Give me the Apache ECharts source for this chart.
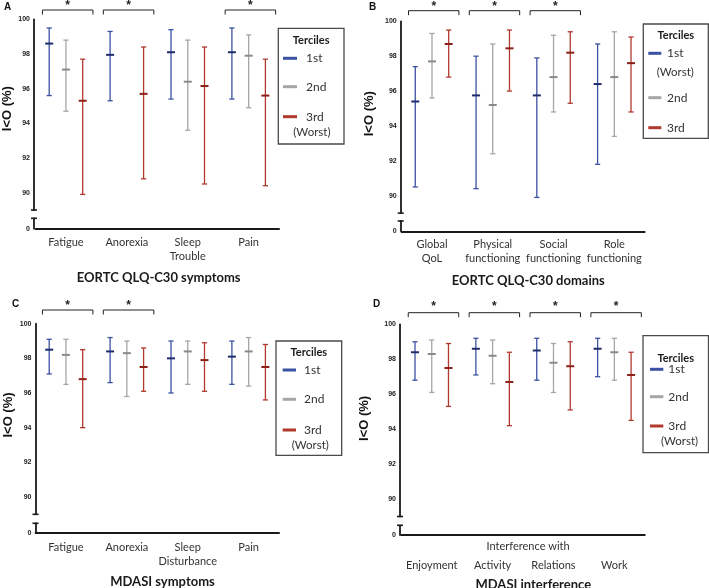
<!DOCTYPE html>
<html>
<head>
<meta charset="utf-8">
<script src="https://cdn.jsdelivr.net/npm/echarts@6/dist/echarts.min.js"></script>
<style>
html, body { margin: 0; padding: 0; background: #fff; }
#chart { width: 709px; height: 588px; }
</style>
</head>
<body>
<div id="chart"></div>
<script>
// categories of each panel
var catsA = ['Fatigue', 'Anorexia', 'Sleep\nTrouble', 'Pain'];
var catsB = ['Global\nQoL', 'Physical\nfunctioning', 'Social\nfunctioning', 'Role\nfunctioning'];
var catsC = ['Fatigue', 'Anorexia', 'Sleep\nDisturbance', 'Pain'];
var catsD = ['Enjoyment', 'Activity', 'Relations', 'Work'];

// [low, mean, high] per category, null = not shown
var a1st = [[95.6, 98.6, 99.5], [95.3, 97.95, 99.3], [95.4, 98.1, 99.4], [95.4, 98.1, 99.5]];
var a2nd = [[94.7, 97.1, 98.8], null, [93.6, 96.4, 98.8], [94.9, 97.9, 99.1]];
var a3rd = [[89.9, 95.3, 97.7], [90.8, 95.7, 98.4], [90.5, 96.15, 98.4], [90.4, 95.6, 97.7]];

var b1st = [[90.5, 95.4, 97.4], [90.4, 95.75, 98.0], [89.9, 95.75, 97.9], [91.8, 96.4, 98.7]];
var b2nd = [[95.6, 97.7, 99.3], [92.4, 95.2, 98.7], [94.8, 96.8, 99.2], [93.4, 96.8, 99.4]];
var b3rd = [[96.8, 98.7, 99.5], [96.0, 98.45, 99.5], [95.3, 98.2, 99.4], [94.8, 97.6, 99.1]];

var c1st = [[97.1, 98.5, 99.1], [96.6, 98.4, 99.2], [96.0, 98.0, 99.0], [96.5, 98.1, 99.0]];
var c2nd = [[96.5, 98.2, 99.1], [95.8, 98.3, 99.0], [96.5, 98.4, 99.0], [96.4, 98.4, 99.2]];
var c3rd = [[94.0, 96.8, 98.5], [96.1, 97.5, 98.6], [96.1, 97.9, 98.9], [95.6, 97.5, 98.8]];

var d1st = [[96.8, 98.4, 99.0], [97.1, 98.6, 99.2], [96.8, 98.5, 99.2], [97.0, 98.6, 99.2]];
var d2nd = [[96.1, 98.3, 99.1], [96.6, 98.2, 99.1], [96.1, 97.8, 98.9], [96.8, 98.4, 99.2]];
var d3rd = [[95.3, 97.5, 98.9], [94.2, 96.7, 98.4], [95.1, 97.6, 99.0], [94.5, 97.1, 98.4]];

// significance brackets (*) per category
var sigA = [1, 1, 0, 1];
var sigB = [1, 1, 1, 0];
var sigC = [1, 1, 0, 0];
var sigD = [1, 1, 1, 1];

var yLabels = [90, 92, 94, 96, 98, 100];
var yLabelsLow = [0];

var colBlue = '#3b51a3', colGray = '#a6a6a6', colRed = '#b0392e';
var meanBlue = '#1f2b6b', meanGray = '#8a8a8a', meanRed = '#8c1f18';
var axisCol = '#1a1a1a';

var panels = [
    {cats: catsA, data: [a1st, a2nd, a3rd], sig: sigA, names: ['1st', '2nd', '3rd'],
     left: 35.5, width: 243.6, top: 19.3, height: 190.7, lowTop: 218.3, lowH: 10.4, yOff: 1.5,
     nameGap: 20, namePad: 12, labMargin: 7, brGap: 9.3, starGap: 4.3,
     title: 'EORTC QLQ-C30 symptoms', titleX: 158.7, titleY: 279.5, letter: 'A', letterX: 4, letterY: 2,
     leg: {box: [278.3, 28.3, 65.7, 115.7], titleY: 40, iconX: 283, iconW: 14, textX: 306, rows: [58.3, 86.7, 116.7], worst: [293.3, 132.7]}},
    {cats: catsB, data: [b1st, b2nd, b3rd], sig: sigB, names: ['1st', '2nd', '3rd'],
     left: 401.6, width: 243.1, top: 21.3, height: 191.8, lowTop: 221, lowH: 10.3, yOff: 0.9,
     nameGap: 25, namePad: 7, labMargin: 6, brGap: 10.6, starGap: 4.3,
     title: 'EORTC QLQ-C30 domains', titleX: 528.3, titleY: 282.8, letter: 'B', letterX: 369, letterY: 2,
     leg: {box: [643.3, 24, 65, 114.3], titleY: 35, iconX: 648.3, iconW: 13, textX: 667, rows: [53.3, 97.7, 127.7], worst: [656.7, 72.7]}},
    {cats: catsC, data: [c1st, c2nd, c3rd], sig: sigC, names: ['1st', '2nd', '3rd'],
     left: 35.5, width: 243.6, top: 323.7, height: 190.6, lowTop: 523.3, lowH: 9.4, yOff: 0,
     nameGap: 21, namePad: 8, labMargin: 8, brGap: 13.7, starGap: 4.3,
     title: 'MDASI symptoms', titleX: 162.5, titleY: 583.5, letter: 'C', letterX: 12, letterY: 299,
     leg: {box: [276, 341, 65.7, 114.3], titleY: 352.3, iconX: 282.7, iconW: 13.3, textX: 304, rows: [370, 399.3, 430], worst: [291.7, 445]}},
    {cats: catsD, data: [d1st, d2nd, d3rd], sig: sigD, names: ['1st', '2nd', '3rd'],
     left: 401.3, width: 243.5, top: 324.3, height: 192.2, lowTop: 525.3, lowH: 9.7, yOff: 1.3,
     nameGap: 29, namePad: 4, labMargin: 23, brGap: 11.6, starGap: 6.3, xName: 'Interference with',
     title: 'MDASI interference', titleX: 533.3, titleY: 586, letter: 'D', letterX: 373, letterY: 299,
     leg: {box: [643, 335.7, 65.5, 117], titleY: 358.3, iconX: 650, iconW: 13.3, textX: 668.3, rows: [369.3, 396.7, 426], worst: [661, 441.7]}}
];

var colors = [colBlue, colGray, colRed];
var means = [meanBlue, meanGray, meanRed];
var shifts = [-0.275, 0, 0.275];

function errorBar(shift, meanColor) {
    return function (params, api) {
        var i = api.value(0);
        var bw = api.size([1, 0])[0];
        var x = api.coord([i, api.value(2)])[0] + bw * shift;
        var lo = api.coord([i, api.value(1)])[1];
        var mid = api.coord([i, api.value(2)])[1];
        var hi = api.coord([i, api.value(3)])[1];
        var thin = {stroke: api.visual('color'), lineWidth: 1.3};
        return {type: 'group', children: [
            {type: 'line', shape: {x1: x, y1: hi, x2: x, y2: lo}, style: thin},
            {type: 'line', shape: {x1: x - 2.6, y1: hi, x2: x + 2.6, y2: hi}, style: thin},
            {type: 'line', shape: {x1: x - 2.6, y1: lo, x2: x + 2.6, y2: lo}, style: thin},
            {type: 'line', shape: {x1: x - 4, y1: mid, x2: x + 4, y2: mid}, style: {stroke: meanColor, lineWidth: 2}}
        ]};
    };
}

function bracket(gap, starGap) {
    return function (params, api) {
        var i = api.value(0);
        var bw = api.size([1, 0])[0];
        var p = api.coord([i, 100]);
        var top = p[1] - gap;
        var x0 = p[0] - bw * 0.386, x1 = p[0] + bw * 0.443;
        return {type: 'group', children: [
            {type: 'polyline', shape: {points: [[x0, top + 4.5], [x0, top], [x1, top], [x1, top + 4.5]]},
             style: {stroke: '#222', lineWidth: 1, fill: null}},
            {type: 'text', style: {text: '*', x: (x0 + x1) / 2, y: top - starGap, align: 'center', verticalAlign: 'middle',
             fontSize: 12, fontWeight: 'bold', fontFamily: 'Liberation Sans', fill: '#222'}}
        ]};
    };
}

function legendBox(lg, names) {
    var b = lg.box;
    var els = [
        {type: 'rect', shape: {x: b[0], y: b[1], width: b[2], height: b[3]},
         style: {fill: '#fff', stroke: '#4a4a4a', lineWidth: 1.3}},
        {type: 'text', style: {text: 'Terciles', x: b[0] + b[2] / 2, y: lg.titleY, align: 'center', verticalAlign: 'middle',
         fontSize: 11, fontWeight: 'bold', fontFamily: 'Lato', fill: '#1a1a1a'}}
    ];
    names.forEach(function (n, k) {
        els.push({type: 'line', shape: {x1: lg.iconX, y1: lg.rows[k], x2: lg.iconX + lg.iconW, y2: lg.rows[k]},
                  style: {stroke: colors[k], lineWidth: 3}});
        els.push({type: 'text', style: {text: n, x: lg.textX, y: lg.rows[k], align: 'left', verticalAlign: 'middle',
                  fontSize: 12, fontFamily: 'Lato', fill: '#333'}});
    });
    els.push({type: 'text', style: {text: '(Worst)', x: lg.worst[0], y: lg.worst[1], align: 'left', verticalAlign: 'middle',
              fontSize: 11.5, fontFamily: 'Lato', fill: '#333'}});
    return els;
}

var grid = [], xAxis = [], yAxis = [], series = [], title = [], graphic = [];

panels.forEach(function (p, k) {
    var gMain = 2 * k, gLow = 2 * k + 1;
    grid.push({left: p.left, top: p.top, width: p.width, height: p.height});
    grid.push({left: p.left, top: p.lowTop, width: p.width, height: p.lowH});

    xAxis.push({type: 'category', gridIndex: gMain, data: p.cats, show: false});
    xAxis.push({type: 'category', gridIndex: gLow, data: p.cats,
        axisLine: {lineStyle: {color: axisCol, width: 1.8}},
        axisTick: {alignWithLabel: true, length: 3, lineStyle: {color: axisCol, width: 1.2}},
        axisLabel: {interval: 0, hideOverlap: false, fontSize: 11, fontFamily: 'Lato', color: '#333', lineHeight: 14, margin: p.labMargin},
        name: p.xName || '', nameLocation: 'middle', nameGap: 6, nameMoveOverlap: false,
        nameTextStyle: {fontSize: 11, fontFamily: 'Lato', color: '#333', verticalAlign: 'top', padding: [0, 0, 0, 10]}});

    yAxis.push({type: 'value', gridIndex: gMain, min: 89, max: 100, interval: 1, offset: p.yOff,
        splitLine: {show: false},
        axisLine: {show: true, lineStyle: {color: axisCol, width: 1.8}, symbol: ['rect', 'none'], symbolSize: [6, 1.6]},
        axisTick: {length: 3, lineStyle: {color: axisCol, width: 1.2}},
        axisLabel: {margin: 4, fontSize: 7, fontWeight: 'bold', fontFamily: 'Liberation Sans', color: '#222',
            formatter: function (v) { return yLabels.indexOf(v) >= 0 ? String(v) : ''; }},
        name: 'I<O (%)', nameLocation: 'middle', nameGap: p.nameGap, nameMoveOverlap: false,
        nameTextStyle: {fontSize: 13, fontWeight: 'bold', fontFamily: 'Liberation Sans', color: '#111', padding: [0, 0, 0, p.namePad]}});
    yAxis.push({type: 'value', gridIndex: gLow, min: 0, max: 1, interval: 1, offset: p.yOff,
        splitLine: {show: false},
        axisLine: {show: true, lineStyle: {color: axisCol, width: 1.8}, symbol: ['none', 'rect'], symbolSize: [6, 1.6]},
        axisTick: {length: 3, lineStyle: {color: axisCol, width: 1.2}},
        axisLabel: {margin: 4, fontSize: 7, fontWeight: 'bold', fontFamily: 'Liberation Sans', color: '#222',
            formatter: function (v) { return yLabelsLow.indexOf(v) >= 0 ? String(v) : ''; }}});

    p.data.forEach(function (arr, t) {
        var rows = [];
        arr.forEach(function (d, i) { if (d) rows.push([i, d[0], d[1], d[2]]); });
        series.push({type: 'custom', name: p.names[t], xAxisIndex: gMain, yAxisIndex: gMain,
            itemStyle: {color: colors[t]}, encode: {x: 0, y: [1, 2, 3]},
            renderItem: errorBar(shifts[t], means[t]), data: rows});
    });

    var sigRows = [];
    p.sig.forEach(function (s, i) { if (s) sigRows.push([i, 100]); });
    series.push({type: 'custom', xAxisIndex: gMain, yAxisIndex: gMain, clip: false, encode: {x: 0, y: 1},
        renderItem: bracket(p.brGap, p.starGap), data: sigRows});

    title.push({text: p.title, left: p.titleX, top: p.titleY - 8, textAlign: 'center', padding: 0,
        textStyle: {fontSize: 13, fontWeight: 'bold', fontFamily: 'Lato', color: '#1a1a1a'}});
    title.push({text: p.letter, left: p.letterX, top: p.letterY, padding: 0,
        textStyle: {fontSize: 10, fontWeight: 'bold', fontFamily: 'Liberation Sans', color: '#111'}});

    graphic = graphic.concat(legendBox(p.leg, p.names));
});

var chart = echarts.init(document.getElementById('chart'));
chart.setOption({
    animation: false,
    backgroundColor: '#fff',
    title: title,
    grid: grid,
    xAxis: xAxis,
    yAxis: yAxis,
    series: series,
    graphic: graphic
});
</script>
</body>
</html>
